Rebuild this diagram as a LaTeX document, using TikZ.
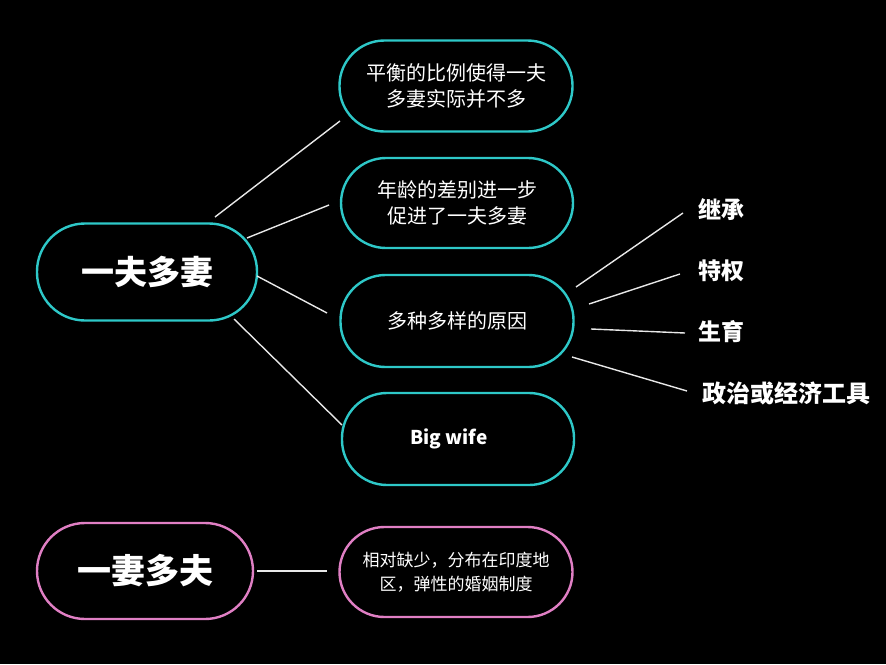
\documentclass[tikz,border=0pt]{standalone}
\usepackage{fontspec}
\setmainfont{Noto Sans CJK SC}
\definecolor{cy}{HTML}{2EC8C8}
\definecolor{pk}{HTML}{E07FC4}
\definecolor{ln}{HTML}{E8E8E8}
\tikzset{
  pill/.style={draw=cy, line width=2.4pt, rounded corners=#1, text=white, align=center, inner sep=0pt},
  pill/.default=45pt,
  conn/.style={draw=ln, line width=1.4pt},
  lab/.style={text=white, font=\bfseries\fontsize{23}{26}\selectfont, anchor=west, inner sep=0pt},
}
\begin{document}
\begin{tikzpicture}[x=1pt,y=-1pt]
\fill[black] (0,0) rectangle (886,664);
\useasboundingbox (0,0) rectangle (886,664);

\node[pill=48pt, minimum width=220pt, minimum height=97pt, font=\bfseries\fontsize{33}{38}\selectfont] (main) at (147,272) {一夫多妻};
\node[pill, minimum width=233pt, minimum height=91pt, font=\fontsize{20}{26}\selectfont] (b1) at (456,86) {平衡的比例使得一夫\\多妻实际并不多};
\node[pill, minimum width=232pt, minimum height=90pt, font=\fontsize{20}{26}\selectfont] (b2) at (457,203) {年龄的差别进一步\\促进了一夫多妻};
\node[pill, minimum width=233pt, minimum height=92pt, font=\fontsize{20}{26}\selectfont] (b3) at (457,321) {多种多样的原因};
\node[pill, minimum width=232pt, minimum height=92pt, font=\bfseries\fontsize{19}{24}\selectfont] (b4) at (458,439) {\hspace*{-18pt}Big wife};

\node[pill=48pt, draw=pk, minimum width=216pt, minimum height=96pt, font=\bfseries\fontsize{34}{38}\selectfont] (poly) at (145,571) {一妻多夫};
\node[pill, draw=pk, minimum width=233pt, minimum height=90pt, font=\fontsize{17}{24}\selectfont] (b5) at (456,572) {相对缺少，分布在印度地\\区，弹性的婚姻制度};

\node[lab] (r1) at (698,210) {继承};
\node[lab] (r2) at (698,271) {特权};
\node[lab] (r3) at (698,332) {生育};
\node[lab, font=\bfseries\fontsize{24}{26}\selectfont] (r4) at (702,393) {政治或经济工具};

% connector end points
\coordinate (m1) at (215,217); \coordinate (e1) at (340,121);
\coordinate (m2) at (247,238); \coordinate (e2) at (329,205);
\coordinate (m3) at (257,276); \coordinate (e3) at (327,313);
\coordinate (m4) at (234,319); \coordinate (e4) at (342,425);
\coordinate (s1) at (576,287); \coordinate (t1) at (683,213);
\coordinate (s2) at (589,304); \coordinate (t2) at (680,274);
\coordinate (s3) at (591,329); \coordinate (t3) at (685,333);
\coordinate (s4) at (572,357); \coordinate (t4) at (687,391);
\coordinate (p1) at (257,571); \coordinate (q1) at (327,571);

\draw[conn] (m1) -- (e1);
\draw[conn] (m2) -- (e2);
\draw[conn] (m3) -- (e3);
\draw[conn] (m4) -- (e4);
\draw[conn] (s1) -- (t1);
\draw[conn] (s2) -- (t2);
\draw[conn] (s3) -- (t3);
\draw[conn] (s4) -- (t4);
\draw[conn] (p1) -- (q1);
\end{tikzpicture}
\end{document}
